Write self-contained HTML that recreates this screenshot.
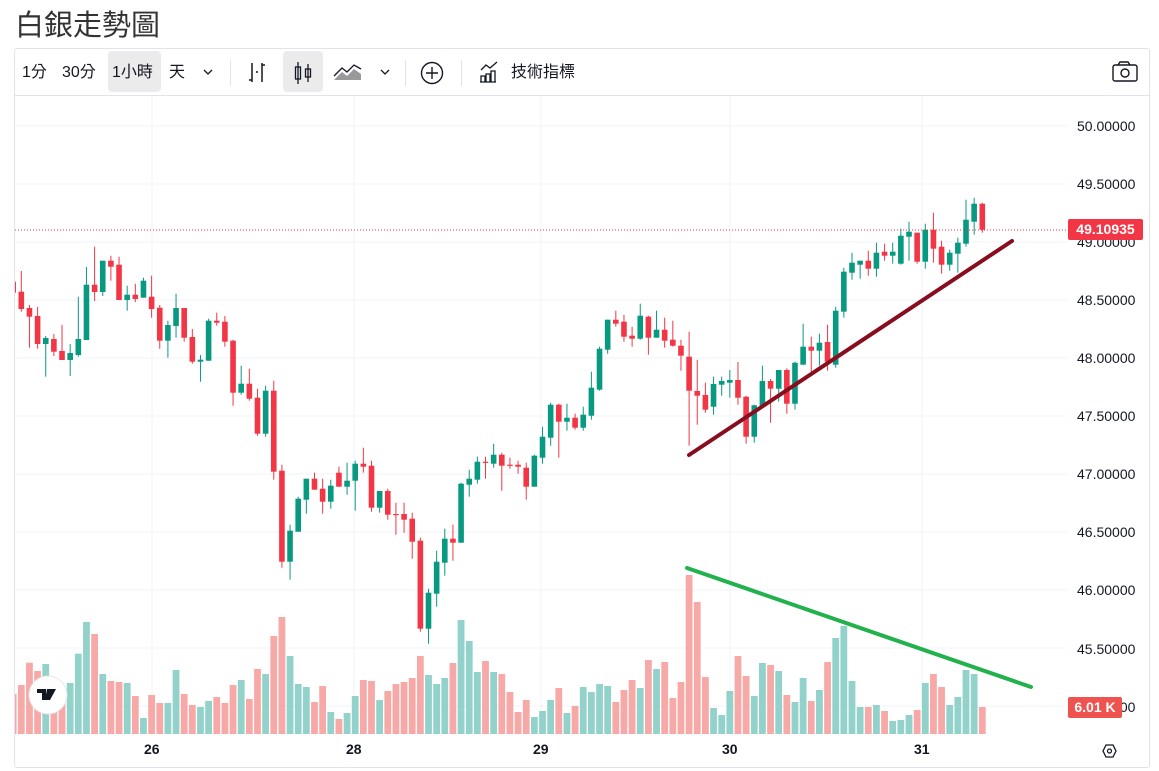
<!DOCTYPE html>
<html><head><meta charset="utf-8">
<style>
html,body{margin:0;padding:0;background:#fff;width:1159px;height:771px;overflow:hidden;font-family:"Liberation Sans","Noto Sans CJK TC",sans-serif;}
.title{position:absolute;left:15px;top:2px;font-size:29px;color:#333;font-family:"Liberation Sans","Noto Sans CJK TC",sans-serif;}
.box{position:absolute;left:14px;top:48px;width:1134px;height:718px;border:1px solid #e0e3eb;border-radius:3px;}
.tb{position:absolute;left:14px;top:48px;width:1135px;height:47px;border-bottom:1px solid #e0e3eb;}
.t{position:absolute;top:62px;font-size:16px;color:#131722;line-height:22px;}
.sep{position:absolute;top:60px;width:1px;height:26px;background:#e0e3eb;}
.pl{position:absolute;left:1077px;font-size:14px;color:#131722;line-height:16px;}
svg{position:absolute;left:0;top:0;}
</style></head><body>
<div class="title">白銀走勢圖</div>
<div class="box"></div>
<div class="tb"></div>
<div style="position:absolute;left:108px;top:51px;width:53px;height:41px;background:#ebebeb;border-radius:4px"></div>
<div style="position:absolute;left:283px;top:51px;width:40px;height:41px;background:#ebebeb;border-radius:4px"></div>
<div class="t" style="left:22px">1分</div>
<div class="t" style="left:62px">30分</div>
<div class="t" style="left:112px">1小時</div>
<div class="t" style="left:169px">天</div>
<div class="t" style="left:511px">技術指標</div>
<div class="sep" style="left:230px"></div>
<div class="sep" style="left:405px"></div>
<div class="sep" style="left:461px"></div>
<div class="pl" style="top:118px">50.00000</div>
<div class="pl" style="top:176px">49.50000</div>
<div class="pl" style="top:234px">49.00000</div>
<div class="pl" style="top:292px">48.50000</div>
<div class="pl" style="top:350px">48.00000</div>
<div class="pl" style="top:408px">47.50000</div>
<div class="pl" style="top:466px">47.00000</div>
<div class="pl" style="top:524px">46.50000</div>
<div class="pl" style="top:582px">46.00000</div>
<div class="pl" style="top:641px">45.50000</div>
<div class="pl" style="top:699px">45.00000</div>
<div style="position:absolute;left:1068px;top:219px;width:75px;height:21px;background:#f23645;border-radius:2px;color:#fff;font-size:14px;font-weight:bold;line-height:21px;text-align:center">49.10935</div>
<div style="position:absolute;left:1068px;top:697px;width:54px;height:21px;background:#ef5350;border-radius:2px;color:#fff;font-size:14px;font-weight:bold;line-height:21px;text-align:center">6.01 K</div>
<div style="position:absolute;top:741px;left:0;width:1159px;font-size:14px;font-weight:bold;color:#131722">
<span style="position:absolute;left:144px">26</span><span style="position:absolute;left:346px">28</span><span style="position:absolute;left:533px">29</span><span style="position:absolute;left:722px">30</span><span style="position:absolute;left:914px">31</span></div>
<svg id="s" width="1159" height="771" xmlns="http://www.w3.org/2000/svg"></svg>
<script>
var C=[
[281.7,292.7,276,300,'r'],
[291.7,309,271,311.7,'r'],[308,316.7,305,347.7,'r'],[316,344,307,348.7,'r'],[338,344,336,376.7,'g'],[339,351.7,334,356,'r'],[351,360,325,360,'r'],[353,360,344,376,'g'],[339,355,296.7,356.7,'g'],[284.7,340,267,340,'g'],[284.7,292,246.7,301,'r'],
[260.7,292,260.7,296,'g'],[260.7,266.7,255.7,280.7,'r'],[264.7,300,256.7,300,'r'],[294.7,300,285.7,310.7,'g'],[294.7,299,283.7,302,'r'],[280.7,297.7,277.7,297.7,'g'],[296.7,309,275.7,317.7,'r'],[307.7,340.7,305,348.7,'r'],[325,340.7,320.7,357.7,'g'],[308,326,293.7,337.7,'g'],
[308,337.7,308,341.7,'r'],[337,361.7,329,363.7,'r'],[359.7,361.7,355,381.7,'g'],[320.7,360.7,318.7,360.7,'g'],[320.7,322.7,312.7,325.7,'r'],[321.7,341.7,316,346.7,'r'],[340.7,392.7,339.7,405.7,'r'],[383.7,392.7,365.7,394.7,'g'],[383.7,398.7,368.7,400.7,'r'],[397.7,433.7,388.7,435.7,'r'],
[390.7,433.7,385.7,436.7,'g'],[390.7,471.7,380.7,479.7,'r'],[470.7,561.7,464.7,567.7,'r'],[530.7,561.7,524.7,579.7,'g'],[498.7,531.7,496.7,531.7,'g'],[478.7,499.7,478.7,513.7,'g'],[478.7,489.7,472.7,489.7,'r'],[488.7,501.7,478.7,513.7,'r'],[485.7,501.7,479.7,508.7,'g'],[472.7,486.7,466.7,486.7,'r'],
[480.7,486.7,462.7,494.7,'g'],[463.7,480.7,460.7,510.7,'g'],[463.7,466.7,447.7,472.7,'r'],[465.7,507.7,460.7,511.7,'r'],[491,507.7,491,512.7,'g'],[491,514.7,488.7,519.7,'r'],[514,515,502.7,534.7,'r'],[514,519.7,502.7,532.7,'r'],[518.7,541.7,512.7,558.7,'r'],[540.7,628.7,537.7,631.7,'r'],
[592.7,628.7,588.7,643.7,'g'],[561.7,593.7,550.7,606.7,'g'],[538.7,562.7,528.7,575.7,'g'],[538.7,542.7,524.7,560.7,'r'],[483.7,542.7,482.7,542.7,'g'],[478.7,484.7,469.7,496.7,'g'],[461.7,479.7,456.7,483.7,'g'],[461.7,462.7,456.7,478.7,'r'],[454.7,463.7,443.7,467.7,'g'],[454.7,465.7,452.7,490.7,'r'],
[464.7,465.7,457.7,468.7,'r'],[464.7,466.7,460.7,473.7,'r'],[467.7,486.7,462.7,499.7,'r'],[455.7,486.7,454.7,486.7,'g'],[436.7,457.7,426.7,463.7,'g'],[404.7,437.7,402.7,445.7,'g'],[404.7,421.7,403.7,457.7,'r'],[417.7,421.7,403.7,430.7,'g'],[417.7,427.7,413.7,429.7,'r'],[414.7,427.7,406.7,430.7,'g'],
[387.7,415.7,371.7,419.7,'g'],[348.7,389.7,346.7,390.7,'g'],[319.7,349.7,319.7,353.7,'g'],[319.7,323.7,310.7,326.7,'r'],[321.7,336.7,314.7,341.7,'r'],[335.7,338.7,326.7,346.7,'r'],[315.7,338.7,303.7,339.7,'g'],[316.7,337.7,315.7,354.7,'r'],[329.7,337.7,310.7,337.7,'g'],[329.7,340.7,317.7,347.7,'r'],
[339.7,345.7,320.7,346.7,'r'],[345.7,355.7,339.7,370.7,'r'],[356.7,390.7,331.7,445.7,'r'],[391,395.7,359.7,424.7,'r'],[395,409.7,382.7,412.7,'r'],[384,406.7,376.7,414.7,'g'],[381,384.7,376.7,395.7,'g'],[380,382.7,370,397.7,'g'],[380,397.7,362,404.7,'r'],[396.7,436.7,395.7,443.7,'r'],
[405.3,436.7,404.7,442.7,'g'],[381,406.7,365.7,406.7,'g'],[381,388.7,379,422.7,'r'],[370,388.7,370,401.7,'g'],[370,403.7,368.3,413.7,'r'],[362.7,403.7,361.7,409.7,'g'],[346.7,364.7,323.7,364.7,'g'],[346.7,350.7,336.7,371.7,'r'],[342.7,350.7,333.7,365.7,'g'],[342,361.7,324.7,370.7,'r'],
[310.7,364.7,306.7,367.7,'g'],[271.7,311.7,267.7,317.7,'g'],[262.7,272.7,252.7,279.7,'g'],[260.7,264.7,260.7,278.7,'g'],[260.7,268.7,250.7,275.7,'r'],[252.7,268.7,242.7,276.7,'g'],[251.7,255.7,243.7,260.7,'r'],[251.7,255.7,242.7,263.7,'g'],[235.7,263.7,228.7,264.7,'g'],[231.7,236.7,221.7,260.7,'g'],
[232.7,261.7,232.7,263.7,'r'],[229.7,261.7,223.7,268.7,'g'],[229.7,248.7,212.7,262.7,'r'],[246.7,264.7,240.7,273.7,'r'],[252.7,264.7,249.7,270.7,'g'],[242.7,253.7,237.7,272.7,'g'],[219.7,243.7,199.7,246.7,'g'],[203.7,221.7,197.7,234.7,'g'],[203.7,229.7,202.7,232.7,'r']];
var V=[694,685,662.7,671,664,693,693,683,653.7,622,634,674,681,682,683,696,718,695,703,703,670,694,705,707,701,697,703,685,680,699,669,674,636,617,656,684,687,702,686,712,719,713,696,680,681,700,691,684,682,678,656,675,684,678,663,620,641,672,661,672,674,692,712,700,717,711,700,688,713,706,687,692,684,686,702,690,680,688,660,669,662,698,682,575,602,677,708,715,691,656,676,696,663,665,671,695,702,678,701,690,662,638,626,681,707,707,705,711,721,720,715,710,683,674,687,705,697,670,674,707];
var SP=8.144, X0=13.16;
var s='';
for(var k=0;k<11;k++){var y=126+58*k;s+='<line x1="15" x2="1067" y1="'+y+'" y2="'+y+'" stroke="#f0f3fa" stroke-width="1"/>';}
[152,354,541,730,922].forEach(function(x){s+='<line x1="'+x+'" x2="'+x+'" y1="96" y2="735" stroke="#f0f3fa"/>';});
s+='<clipPath id="cp"><rect x="15" y="96" width="1052" height="640"/></clipPath><g clip-path="url(#cp)">';
for(var i=0;i<V.length;i++){var x=X0+i*SP;var col=C[i][4]=='r'?'#f7a9a7':'#92d2cb';s+='<rect x="'+(x-3.4)+'" y="'+V[i]+'" width="6.8" height="'+(734-V[i])+'" fill="'+col+'"/>';}
for(var i=0;i<C.length;i++){var c=C[i];var x=X0+i*SP;var col=c[4]=='r'?'#f23645':'#089981';
s+='<line x1="'+x+'" x2="'+x+'" y1="'+c[2]+'" y2="'+c[3]+'" stroke="'+col+'" stroke-width="1"/>';
var h=Math.max(1.2,c[1]-c[0]);s+='<rect x="'+(x-2.8)+'" y="'+c[0]+'" width="5.6" height="'+h+'" fill="'+col+'"/>';}
s+='</g>';
s+='<line x1="15" x2="1067" y1="230" y2="230" stroke="#f23645" stroke-width="1" stroke-dasharray="1,2"/>';
s+='<line x1="689" y1="455" x2="1012" y2="241" stroke="#880e1f" stroke-width="4" stroke-linecap="round"/>';
s+='<line x1="687" y1="568" x2="1031" y2="687" stroke="#22b14c" stroke-width="4" stroke-linecap="round"/>';
s+='<circle cx="48" cy="695" r="19" fill="#fff" stroke="#e6e6e6"/><path d="M37 689h9v11h-4v-7h-5z M47 689h4l-3 11h-3z M50 689h6l-6 11h-3z" fill="#131722"/>';
s+='<path d="M204 70l4 4 4-4" fill="none" stroke="#131722" stroke-width="1.3"/><path d="M381 70l4 4 4-4" fill="none" stroke="#131722" stroke-width="1.3"/>';
s+='<path d="M252 63v19M252 80h-3M262 63v19M262 65h3M256 72h2" fill="none" stroke="#131722" stroke-width="1.5"/>';
s+='<path d="M298 62v22M308 64v18" stroke="#131722" stroke-width="1.3"/><rect x="295.5" y="67" width="5" height="12" fill="none" stroke="#131722" stroke-width="1.3"/><rect x="305.5" y="69" width="5" height="8" fill="none" stroke="#131722" stroke-width="1.3"/>';
s+='<path d="M334 80l8-8 5 4 7-7 7 5v6h-27z" fill="#999"/><path d="M334 76l8-8 5 4 7-7 7 4" fill="none" stroke="#131722" stroke-width="1.3"/>';
s+='<circle cx="432" cy="73" r="10.5" fill="none" stroke="#131722" stroke-width="1.4"/><path d="M432 67v12M426 73h12" stroke="#131722" stroke-width="1.4"/>';
s+='<path d="M481 82v-6h4v6M486 82v-8h4v8M491 82v-11h4v11M480 82h16M481 70l5-5 4 3 7-6" fill="none" stroke="#131722" stroke-width="1.3"/>';
s+='<rect x="1113" y="65" width="24" height="16" rx="2" fill="none" stroke="#131722" stroke-width="1.4"/><path d="M1118 65l2-3h8l2 3" fill="none" stroke="#131722" stroke-width="1.4"/><circle cx="1125" cy="73" r="4" fill="none" stroke="#131722" stroke-width="1.4"/>';
s+='<path d="M1103 751l3-6h7l3 6-3 6h-7z" fill="none" stroke="#131722" stroke-width="1.3"/><circle cx="1109.5" cy="751" r="2" fill="none" stroke="#131722" stroke-width="1.2"/>';
document.getElementById('s').innerHTML=s;
</script>
</body></html>
